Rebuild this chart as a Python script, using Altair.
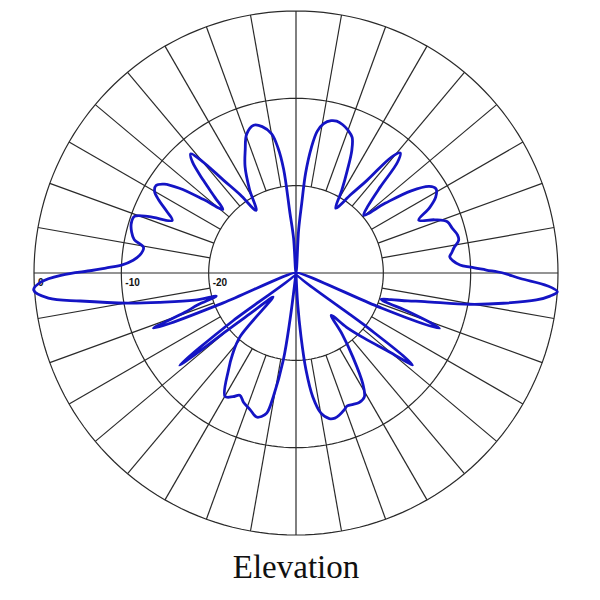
import altair as alt
import pandas as pd
import numpy as np

# ---- data (angle in degrees, counter-clockwise from +x; level in dB) ----
pattern_angle = [
    -88, -86.9, -85.5, -84.1, -82.3, -79.9, -77.1, -75, -73, -70.5, -68.9, -66.5, -64, -61.1,
    -58.9, -55.9, -53, -50.2, -47, -43.7, -40.3, -38.8, -38.3, -37.7, -37.3, -30,
    -22.3, -21.8, -21.1, -20.3, -19, -17.2, -15.7, -14, -12.5, -10.2, -8.3, -6.4, -5.2, -4.1,
    -2.9, -1.4, 0, 0.9, 1.9, 2.8, 4.5, 6, 7.5, 9, 11.4, 13.3, 16, 18.7, 21, 23.3,
    26, 28.5, 31, 33, 35.5, 38, 40.5, 43, 45.6, 47.5, 49, 50.5, 52.5, 55, 58.5,
    61, 63.5, 65.5, 67.5, 70, 72.5, 75, 77, 79.5, 81.5, 83, 84.5, 85.3, 86.5, 90,
    94, 95.8, 96.8, 98.2, 100, 103, 106, 109.5, 112.5, 115.6, 119, 122.5,
    125.5, 128, 130, 131.5, 133, 135, 137, 139, 141.5, 144, 146, 148, 150, 152, 154.5, 157,
    159, 160.7, 163.2, 166, 168.4, 170.5, 173.5, 175.5, 177.4, 178.5, 179.3, 180.5, 182, 183.7,
    185.8, 187.4, 190.2, 192.2, 195, 196.2, 198, 199.5, 201.2, 201.8, 202.3, 209.5,
    217.2, 217.8, 218.4, 219, 219.8, 222, 226.2, 228.7, 232, 235.1, 240.1, 243, 245.3, 248,
    251.4, 254.7, 256.5, 258.2, 259.6, 261.7, 262.7, 268,
]
pattern_db = [
    -30, -26.5, -22.7, -18.8, -15.7, -13.7, -12.9, -12.8, -13.0, -13.4, -13.7, -13.6, -13.5, -13.8,
    -15.2, -18.4, -21.2, -23.7, -21.5, -19.2, -16.1, -13.8, -13.0, -14.5, -20, -30,
    -20, -14.5, -12.4, -13.5, -16.3, -19.8, -18.7, -16.8, -14.9, -9.8, -6.0, -2.3, -0.8, 0.0,
    -1.2, -4.3, -6.3, -8.2, -10.0, -11.2, -12.0, -12.3, -12.0, -11.7, -11.0, -11.0, -11.4, -11.7, -13.0, -14.7,
    -13.0, -11.8, -11.3, -11.8, -13.8, -17.0, -19.8, -18.7, -16.2, -12.8, -11.8, -12.8, -16.6, -19.0, -21.3,
    -19.2, -16.8, -14.6, -13.2, -12.6, -12.2, -12.0, -12.1, -12.6, -13.6, -15.5, -18.5, -22, -25, -30,
    -26, -23, -18, -15.5, -13.8, -12.8, -12.4, -13.1, -14.8, -16.5, -19, -21.5,
    -19, -16.5, -13.3, -11.8, -12.6, -15, -17.3, -18.9, -16.5, -13.5, -11.8, -11.1, -11.3, -12.2, -13.6, -14.6,
    -12.0, -10.4, -10.3, -10.6, -11.1, -12.3, -12.0, -11.3, -10.0, -8.2, -6.6, -3.2, -0.8, 0.1,
    -1.5, -5.1, -10.5, -14.1, -18.0, -20.5, -18.2, -16.5, -12.5, -14.5, -21, -30,
    -21, -16, -13.0, -15.5, -19.7, -23.5, -26.2, -20.3, -18.2, -16.5, -13.7, -14.1, -14.6, -14.0,
    -13.5, -12.9, -13.1, -13.6, -15.6, -19.9, -24.6, -30,
]
ring_db = [0, -10, -20]
ring_labels = ["0", "-10", "-20"]
spoke_angles = list(range(0, 360, 10))
chart_caption = "Elevation"

FLOOR = -30  # centre of the polar plot

# ---- tables ----
n = len(pattern_angle)
pat = pd.DataFrame({
    "angle": pattern_angle + [pattern_angle[0] + 360],
    "db": pattern_db + [pattern_db[0]],
    "idx": list(range(n + 1)),
})

ring_rows = []
for d in ring_db:
    for a in np.arange(0, 361, 2):
        ring_rows.append({"ring": d, "angle": float(a), "db": d})
rings = pd.DataFrame(ring_rows)

spokes = pd.DataFrame({
    "angle": spoke_angles,
    "inner": [FLOOR if a % 90 == 0 else -20 for a in spoke_angles],
    "outer": [0] * len(spoke_angles),
})

labels = pd.DataFrame({"db": ring_db, "text": ring_labels})
caption = pd.DataFrame({"text": [chart_caption]})

W = 524
xs = alt.Scale(domain=[-30, 30], nice=False, zero=False)
ys = alt.Scale(domain=[-30, 30], nice=False, zero=False)

RX = "max(datum.db + 30, 0) * cos(datum.angle * PI / 180)"
RY = "max(datum.db + 30, 0) * sin(datum.angle * PI / 180)"

grid_color = "#2a2a2a"

ring_chart = alt.Chart(rings).transform_calculate(x=RX, y=RY).mark_line(
    color=grid_color, strokeWidth=1.2
).encode(
    x=alt.X("x:Q", scale=xs, axis=None),
    y=alt.Y("y:Q", scale=ys, axis=None),
    detail="ring:N",
    order="angle:Q",
)

spoke_chart = alt.Chart(spokes).transform_calculate(
    x1="(datum.inner + 30) * cos(datum.angle * PI / 180)",
    y1="(datum.inner + 30) * sin(datum.angle * PI / 180)",
    x2="(datum.outer + 30) * cos(datum.angle * PI / 180)",
    y2="(datum.outer + 30) * sin(datum.angle * PI / 180)",
).mark_rule(color=grid_color, strokeWidth=1.2).encode(
    x=alt.X("x1:Q", scale=xs, axis=None),
    y=alt.Y("y1:Q", scale=ys, axis=None),
    x2="x2:Q",
    y2="y2:Q",
)

label_chart = alt.Chart(labels).transform_calculate(
    x="-(datum.db + 30)", y="0"
).mark_text(
    align="left", baseline="middle", dx=4, dy=10, fontSize=10, fontWeight="bold",
    font="Liberation Sans", color="#111111",
).encode(
    x=alt.X("x:Q", scale=xs, axis=None),
    y=alt.Y("y:Q", scale=ys, axis=None),
    text="text:N",
)

pattern_chart = alt.Chart(pat).transform_calculate(x=RX, y=RY).mark_line(
    color="#1414c4", strokeWidth=2.8, interpolate="catmull-rom"
).encode(
    x=alt.X("x:Q", scale=xs, axis=None),
    y=alt.Y("y:Q", scale=ys, axis=None),
    order="idx:Q",
)

caption_chart = alt.Chart(caption).mark_text(
    align="center", baseline="alphabetic", fontSize=33, font="Liberation Serif", color="#111111"
).encode(
    x=alt.value(262),
    y=alt.value(567),
    text="text:N",
)

chart = alt.layer(
    ring_chart, spoke_chart, label_chart, pattern_chart, caption_chart
).properties(
    width=W, height=W,
    background="white",
    autosize=alt.AutoSizeParams(type="none"),
    padding={"left": 26, "top": 3, "right": 20, "bottom": 60},
).configure_view(strokeWidth=0, stroke="transparent")

chart.save("out.html", embed_options={"renderer": "svg", "actions": False})
